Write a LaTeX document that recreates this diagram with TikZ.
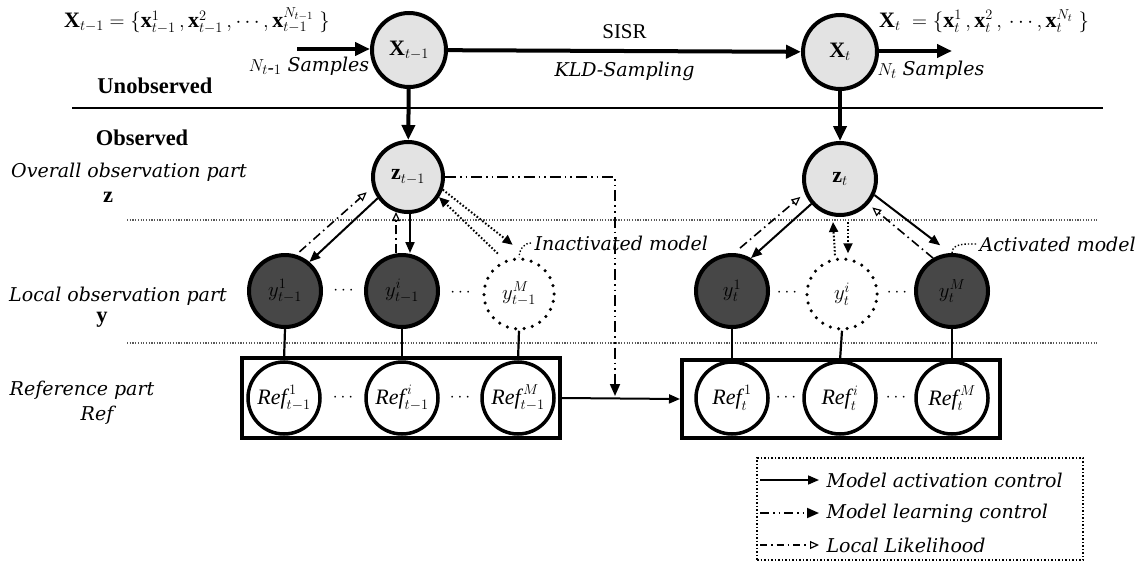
\documentclass[tikz,border=0pt]{standalone}
\usepackage{fontspec}
\setmainfont{Liberation Serif}
\newfontfamily\lblfont{DejaVu Serif}
\usetikzlibrary{arrows.meta,calc}
\begin{document}
\begin{tikzpicture}[x=1pt,y=-1pt,
  every node/.style={font=\fontsize{21}{24}\selectfont},
  circ/.style={circle, draw, line width=4pt, minimum size=72pt, inner sep=0pt},
  lightc/.style={circ, fill=gray!22, font=\fontsize{22}{24}\selectfont},
  darkc/.style={circ, fill=black!72, font=\fontsize{22}{24}\selectfont},
  dotc/.style={circle, draw, line width=3.5pt, dash pattern=on 0pt off 8.5pt, line cap=round, minimum size=70pt, inner sep=0pt, font=\fontsize{22}{24}\selectfont},
  refc/.style={circ, fill=white, line width=3.5pt, font=\fontsize{22}{24}\selectfont},
  grp/.style={draw, line width=4pt},
  big/.style={line width=4pt, -{Triangle[length=15pt,width=13pt]}},
  act/.style={line width=2pt, -{Triangle[length=11pt,width=9pt]}},
  lik/.style={line width=1.6pt, dash pattern=on 9pt off 4pt on 1.6pt off 4pt, -{Triangle[open,length=9pt,width=8pt,line width=1.2pt]}},
  learn/.style={line width=1.8pt, dash pattern=on 11pt off 4pt on 1.6pt off 4pt on 1.6pt off 4pt, -{Triangle[length=12pt,width=10pt]}},
  dotarr/.style={line width=2pt, dash pattern=on 1.6pt off 2pt, -{Triangle[length=10pt,width=9pt]}},
  sepline/.style={line width=1.2pt, gray!70!black, dash pattern=on 1.2pt off 1.5pt},
  itlbl/.style={font=\lblfont\itshape\fontsize{19}{22}\selectfont},
  bflbl/.style={font=\bfseries\fontsize{22.5}{25}\selectfont},
  mathl/.style={font=\fontsize{22}{25}\selectfont},
  dotsl/.style={font=\fontsize{19}{22}\selectfont},
  callout/.style={line width=1.4pt, dash pattern=on 1.4pt off 2pt}
]
\useasboundingbox (0,0) rectangle (1142,565);

% separating lines
\draw[line width=1.6pt] (72,108) -- (1103,108);
\draw[sepline] (127,220) -- (1097,220);
\draw[sepline] (127,343) -- (1097,343);

% region labels
\node[bflbl] (unobs) at (155,86) {Unobserved};
\node[bflbl] (obs) at (142,138) {Observed};
\node[itlbl] (ovl) at (129,172) {Overall observation part};
\node[bflbl] (zl) at (108,197) {z};
\node[itlbl] (lcl) at (118,296) {Local observation part};
\node[bflbl] (yl) at (102,320) {y};
\node[itlbl] (rfl) at (82,390) {Reference part};
\node[itlbl] (rfl2) at (97,415) {Ref};

% top state nodes
\node[lightc, minimum size=74pt] (Xa) at (409,50) {$\mathbf{X}_{t-1}$};
\node[lightc, minimum size=74pt] (Xb) at (840,52) {$\mathbf{X}_{t}$};
\node[mathl, anchor=west, inner sep=0pt] (seta) at (64,21) {$\mathbf{X}_{t-1}=\{\mathbf{x}_{t-1}^{1}\,,\mathbf{x}_{t-1}^{2}\,,\cdots,\mathbf{x}_{t-1}^{N_{t-1}}\;\}$};
\node[mathl, anchor=west, inner sep=0pt] (setb) at (879,21) {$\mathbf{X}_{t}\;=\{\mathbf{x}_{t}^{1}\,,\mathbf{x}_{t}^{2}\,,\,\cdots,\mathbf{x}_{t}^{N_{t}}\;\}$};
\node[itlbl] (nsa) at (309,66) {$N_{t\mbox{-}1}$ Samples};
\node[itlbl, anchor=west] (nsb) at (874,70) {$N_{t}$ Samples};
\coordinate (inA) at (297,49);
\coordinate (outB) at (952,51);
\draw[big] (inA) -- (Xa.west |- inA);
\draw[big] (Xa) -- node[above=7pt]{SISR} node[below=6pt, itlbl]{KLD-Sampling} (Xb);
\draw[big] (Xb.east |- outB) -- (outB);

% overall observation nodes
\node[lightc, minimum size=70pt] (za) at (408,177) {$\mathbf{z}_{t-1}$};
\node[lightc, minimum size=72pt] (zb) at (840,179) {$\mathbf{z}_{t}$};
\draw[big] (Xa) -- (za);
\draw[big] (Xb) -- (zb);

% local observation nodes
\node[darkc] (y1a) at (285,291) {$y_{t-1}^{1}$};
\node[darkc] (yia) at (402,291) {$y_{t-1}^{i}$};
\node[dotc] (yMa) at (519,294) {$y_{t-1}^{M}$};
\node[darkc] (y1b) at (732,291) {$y_{t}^{1}$};
\node[dotc] (yib) at (842,294) {$y_{t}^{i}$};
\node[darkc] (yMb) at (952,291) {$y_{t}^{M}$};
\node[dotsl, inner sep=0pt] (d1) at ($(y1a)!0.5!(yia)$) {$\cdots$};
\node[dotsl, inner sep=0pt] (d2) at ($(yia)!0.5!(yMa)$) {$\cdots$};
\node[dotsl, inner sep=0pt] (d3) at ($(y1b)!0.5!(yib)$) {$\cdots$};
\node[dotsl, inner sep=0pt] (d4) at ($(yib)!0.5!(yMb)$) {$\cdots$};

% reference nodes
\node[grp, minimum width=318pt, minimum height=80pt] (boxa) at (401,398) {};
\node[grp, minimum width=318pt, minimum height=78pt] (boxb) at (841,399) {};
\node[refc] (r1a) at (284,398) {$\textit{Ref}_{t-1}^{\,1}$};
\node[refc] (ria) at (402,398) {$\textit{Ref}_{t-1}^{\,i}$};
\node[refc] (rMa) at (518,398) {$\textit{Ref}_{t-1}^{\,M}$};
\node[refc] (r1b) at (732,398) {$\textit{Ref}_{t}^{\,1}$};
\node[refc] (rib) at (840,398) {$\textit{Ref}_{t}^{\,i}$};
\node[refc] (rMb) at (952,398) {$\textit{Ref}_{t}^{\,M}$};
\node[dotsl, inner sep=0pt] (e1) at ($(r1a)!0.5!(ria)$) {$\cdots$};
\node[dotsl, inner sep=0pt] (e2) at ($(ria)!0.5!(rMa)$) {$\cdots$};
\node[dotsl, inner sep=0pt] (e3) at ($(r1b)!0.5!(rib)$) {$\cdots$};
\node[dotsl, inner sep=0pt] (e4) at ($(rib)!0.5!(rMb)$) {$\cdots$};

\foreach \a/\b in {y1a/r1a, yia/ria, yMa/rMa, y1b/r1b, yib/rib, yMb/rMb}
  \draw[line width=2.2pt] (\a.south) -- (\b.north);

% box to box
\draw[act] (boxa.east) -- (boxb.west);
\coordinate (mid) at (615,396);
\draw[learn] (za.east) -| (mid);

% left z arrows
\draw[act] (za.215) -- (y1a.50);
\draw[lik] ([shift={(-10,-10)}]y1a.50) -- ([shift={(-11,-6)}]za.215);
\draw[act] ([xshift=2pt]za.south) -- ([xshift=2pt]za.south |- yia.north);
\draw[lik] ([xshift=-12pt]za.south |- yia.north) -- ([shift={(-12,-2)}]za.south);
\draw[dotarr] (za.340) -- ([shift={(0,-13)}]yMa.100);
\draw[dotarr] ([shift={(-4,-8)}]yMa.118) -- (za.327);

% right z arrows
\draw[act] (zb.221) -- (y1b.60);
\draw[lik] ([shift={(-11,-10)}]y1b.60) -- ([shift={(-11,-7)}]zb.221);
\draw[dotarr] ([shift={(-7,-2)}]yib.north) -- ([shift={(-7,5)}]zb.south);
\draw[dotarr] ([shift={(8,5)}]zb.south) -- ([shift={(6,-4)}]yib.north);
\draw[act] (zb.335) -- ([shift={(-2,-9)}]yMb.105);
\draw[lik] (yMb.120) -- ([shift={(4,3)}]zb.318);

% callouts
\node[itlbl, anchor=west] (inact) at (531,243) {Inactivated model};
\node[itlbl, anchor=west] (actv) at (976,244) {Activated model};
\draw[callout] (inact.west) to[out=180,in=90] (yMa.north);
\draw[callout] (actv.west) to[out=180,in=90] (yMb.north);

% legend
\node[draw, line width=1.5pt, dash pattern=on 1.5pt off 2pt, minimum width=326pt, minimum height=102pt] (leg) at (920,509) {};
\coordinate (l1a) at (760,480); \coordinate (l1b) at (819,480);
\coordinate (l2a) at (760,513); \coordinate (l2b) at (819,513);
\coordinate (l3a) at (760,545); \coordinate (l3b) at (819,545);
\draw[act, line width=1.6pt] (l1a) -- (l1b);
\draw[learn, dash pattern=on 9pt off 4pt on 1.6pt off 4pt on 1.6pt off 4pt] (l2a) -- (l2b);
\draw[lik, dash pattern=on 7pt off 4pt on 1.6pt off 4pt] (l3a) -- (l3b);
\node[itlbl, anchor=west] (t1) at (823,480) {Model activation control};
\node[itlbl, anchor=west] (t2) at (823,513) {Model learning control};
\node[itlbl, anchor=west] (t3) at (823,545) {Local Likelihood};
\end{tikzpicture}
\end{document}
